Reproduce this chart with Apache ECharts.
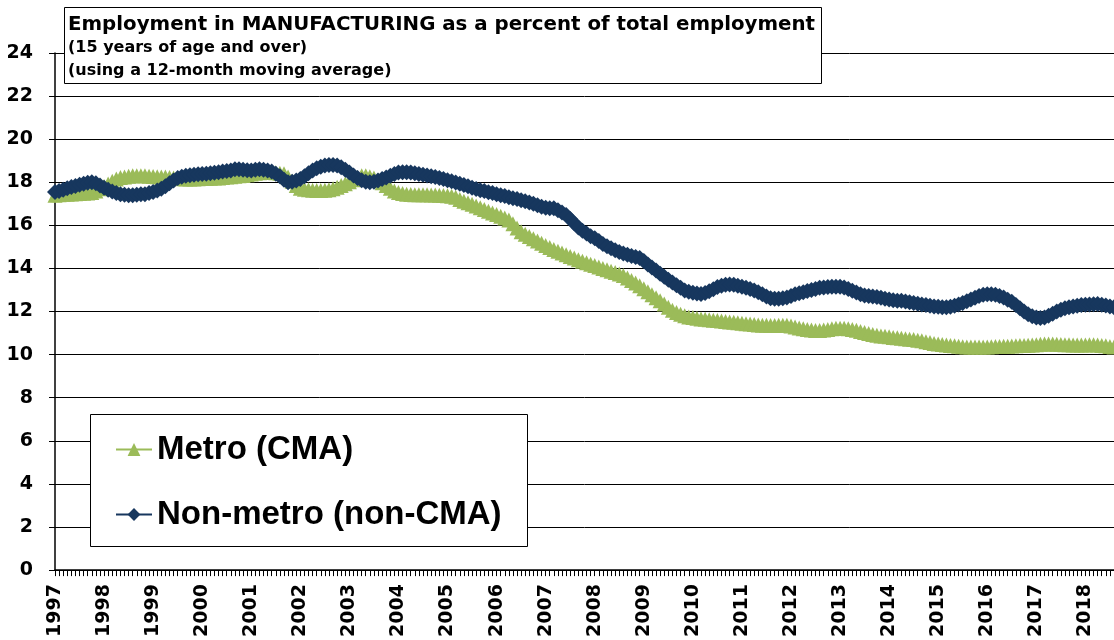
<!DOCTYPE html>
<html>
<head>
<meta charset="utf-8">
<script src="https://cdn.jsdelivr.net/npm/echarts@6/dist/echarts.min.js"></script>
<style>
  html, body { margin: 0; padding: 0; background: #fff; }
  #chart { width: 1114px; height: 640px; }
</style>
</head>
<body>
<div id="chart"></div>
<script>
// year labels, one category per month (Jan 1997 - Aug 2018)
const years = [1997, 1998, 1999, 2000, 2001, 2002, 2003, 2004, 2005, 2006, 2007,
  2008, 2009, 2010, 2011, 2012, 2013, 2014, 2015, 2016, 2017, 2018];
const lastYearMonths = 8;

// Metro (CMA), % of total employment, 12-month moving average
const metro = [
  17.4, 17.42, 17.44, 17.45, 17.46, 17.47, 17.48, 17.49, 17.5, 17.53, 17.6, 17.7, // 1997
  17.8, 17.92, 18.05, 18.15, 18.22, 18.25, 18.28, 18.3, 18.3, 18.3, 18.3, 18.28,
  18.27, 18.26, 18.25, 18.25, 18.22, 18.2, 18.18, 18.16, 18.15, 18.15, 18.15, 18.16,
  18.17, 18.18, 18.19, 18.2, 18.2, 18.22, 18.24, 18.26, 18.28, 18.3, 18.32, 18.35, // 2000
  18.38, 18.42, 18.44, 18.45, 18.45, 18.45, 18.44, 18.42, 18.4, 18.25, 18.05, 17.85,
  17.72, 17.68, 17.65, 17.63, 17.62, 17.62, 17.63, 17.65, 17.7, 17.77, 17.85, 17.93,
  18.02, 18.12, 18.22, 18.3, 18.3, 18.26, 18.2, 18.1, 17.98, 17.85, 17.72, 17.6,
  17.52, 17.48, 17.45, 17.43, 17.42, 17.42, 17.42, 17.42, 17.41, 17.41, 17.4, 17.39,
  17.37, 17.35, 17.3, 17.2, 17.12, 17.05, 16.98, 16.9, 16.82, 16.74, 16.66, 16.58, // 2005
  16.5, 16.42, 16.34, 16.25, 16.07, 15.88, 15.7, 15.59, 15.48, 15.38, 15.27, 15.17,
  15.07, 14.97, 14.88, 14.8, 14.72, 14.64, 14.56, 14.48, 14.41, 14.34, 14.27, 14.2,
  14.14, 14.07, 14.0, 13.94, 13.87, 13.81, 13.74, 13.67, 13.56, 13.44, 13.32, 13.2,
  13.06, 12.92, 12.78, 12.64, 12.5, 12.35, 12.2, 12.06, 11.96, 11.88, 11.8, 11.75,
  11.72, 11.69, 11.66, 11.64, 11.62, 11.6, 11.58, 11.56, 11.54, 11.52, 11.5, 11.48, // 2010
  11.46, 11.44, 11.42, 11.4, 11.38, 11.37, 11.36, 11.35, 11.35, 11.36, 11.37, 11.37,
  11.33, 11.28, 11.24, 11.2, 11.17, 11.14, 11.12, 11.12, 11.14, 11.17, 11.2, 11.22,
  11.22, 11.22, 11.2, 11.17, 11.13, 11.08, 11.03, 10.98, 10.94, 10.9, 10.87, 10.85,
  10.83, 10.8, 10.78, 10.76, 10.74, 10.72, 10.7, 10.67, 10.64, 10.6, 10.56, 10.52,
  10.5, 10.47, 10.45, 10.43, 10.41, 10.39, 10.37, 10.36, 10.35, 10.35, 10.35, 10.35, // 2015
  10.36, 10.37, 10.38, 10.38, 10.39, 10.39, 10.4, 10.41, 10.42, 10.43, 10.44, 10.45,
  10.46, 10.48, 10.5, 10.5, 10.49, 10.48, 10.47, 10.46, 10.46, 10.45, 10.45, 10.45,
  10.45, 10.46, 10.46, 10.45, 10.43, 10.41, 10.38, 10.35 // 2018
];

// Non-metro (non-CMA)
const nonMetro = [
  17.55, 17.6, 17.65, 17.72, 17.78, 17.83, 17.88, 17.93, 17.98, 18.0, 17.95, 17.85, // 1997
  17.75, 17.65, 17.57, 17.5, 17.45, 17.42, 17.4, 17.4, 17.42, 17.44, 17.45, 17.5,
  17.55, 17.62, 17.7, 17.82, 17.95, 18.08, 18.2, 18.26, 18.3, 18.33, 18.35, 18.37,
  18.38, 18.4, 18.42, 18.44, 18.46, 18.5, 18.52, 18.55, 18.6, 18.6, 18.58, 18.56, // 2000
  18.55, 18.58, 18.6, 18.58, 18.55, 18.5, 18.4, 18.28, 18.12, 18.0, 18.02, 18.08,
  18.15, 18.28, 18.42, 18.55, 18.65, 18.72, 18.78, 18.8, 18.8, 18.78, 18.7, 18.58,
  18.45, 18.32, 18.2, 18.1, 18.03, 18.0, 18.02, 18.08, 18.15, 18.22, 18.3, 18.38,
  18.45, 18.47, 18.47, 18.45, 18.42, 18.38, 18.35, 18.32, 18.28, 18.25, 18.2, 18.15,
  18.1, 18.05, 17.99, 17.93, 17.87, 17.81, 17.75, 17.69, 17.63, 17.59, 17.54, 17.5, // 2005
  17.45, 17.4, 17.36, 17.31, 17.26, 17.22, 17.17, 17.12, 17.06, 17.0, 16.93, 16.86,
  16.82, 16.8, 16.8, 16.7, 16.6, 16.48, 16.3, 16.1, 15.9, 15.75, 15.62, 15.5,
  15.4, 15.27, 15.14, 15.03, 14.94, 14.85, 14.77, 14.7, 14.64, 14.58, 14.53, 14.48,
  14.35, 14.18, 14.05, 13.9, 13.76, 13.62, 13.48, 13.35, 13.22, 13.1, 12.98, 12.92,
  12.87, 12.84, 12.82, 12.86, 12.94, 13.04, 13.14, 13.2, 13.25, 13.26, 13.24, 13.2, // 2010
  13.15, 13.1, 13.05, 12.98, 12.9, 12.8, 12.7, 12.62, 12.6, 12.6, 12.62, 12.65,
  12.72, 12.8, 12.85, 12.9, 12.95, 13.0, 13.05, 13.1, 13.12, 13.14, 13.15, 13.15,
  13.15, 13.12, 13.05, 12.97, 12.88, 12.8, 12.75, 12.72, 12.7, 12.67, 12.64, 12.6,
  12.56, 12.53, 12.5, 12.5, 12.47, 12.43, 12.4, 12.36, 12.33, 12.3, 12.27, 12.24,
  12.22, 12.2, 12.2, 12.22, 12.27, 12.33, 12.4, 12.48, 12.56, 12.64, 12.72, 12.78, // 2015
  12.8, 12.8, 12.78, 12.72, 12.65, 12.55, 12.45, 12.3, 12.15, 12.0, 11.88, 11.78,
  11.72, 11.7, 11.72, 11.8, 11.9, 12.0, 12.08, 12.15, 12.2, 12.24, 12.27, 12.3,
  12.32, 12.33, 12.34, 12.35, 12.32, 12.28, 12.24, 12.2 // 2018
];

const titleLines = [
  "Employment in MANUFACTURING as a percent of total employment",
  "(15 years of age and over)",
  "(using a 12-month moving average)"
];

// one category per month, labelled with its year
const months = [];
years.forEach((y, i) => {
  const n = i === years.length - 1 ? lastYearMonths : 12;
  for (let m = 1; m <= n; m++) {
    months.push(y + "-" + String(m).padStart(2, "0"));
  }
});

const chart = echarts.init(document.getElementById("chart"), null, { renderer: "canvas" });

const axisFont = {
  color: "#000",
  fontFamily: "DejaVu Sans",
  fontWeight: "bold",
  fontSize: 19,
};

const option = {
  animation: false,
  backgroundColor: "#fff",
  grid: { left: 55, right: 0, top: 53, bottom: 65, containLabel: false },
  xAxis: {
    type: "category",
    data: months,
    boundaryGap: false,
    axisLine: { lineStyle: { color: "#000", width: 1.5 } },
    axisTick: { show: true, interval: 0, length: 6, lineStyle: { color: "#000" } },
    axisLabel: Object.assign({}, axisFont, {
      rotate: 90,
      margin: 14,
      interval: (idx) => idx % 12 === 0,
      formatter: (v) => v.slice(0, 4),
    }),
    splitLine: { show: false },
  },
  yAxis: {
    type: "value",
    min: 0,
    max: 24,
    interval: 2,
    axisLine: { show: true, lineStyle: { color: "#000", width: 1.5 } },
    axisTick: { show: true, length: 6, lineStyle: { color: "#000" } },
    axisLabel: Object.assign({}, axisFont, { margin: 22 }),
    splitLine: { lineStyle: { color: "#000", width: 1 } },
  },
  legend: {
    orient: "vertical",
    left: 110,
    top: 428,
    itemGap: 32,
    itemWidth: 36,
    itemHeight: 16,
    z: 20,
    textStyle: {
      color: "#000",
      fontFamily: "Liberation Sans",
      fontWeight: "bold",
      fontSize: 33,
    },
    data: ["Metro (CMA)", "Non-metro (non-CMA)"],
  },
  graphic: [
    {
      type: "rect",
      z: 15,
      shape: { x: 64.5, y: 7.5, width: 757, height: 76 },
      style: { fill: "#fff", stroke: "#000", lineWidth: 1 },
    },
    {
      type: "text",
      z: 16,
      left: 68,
      top: 15,
      style: { text: titleLines[0], fill: "#000", font: "bold 19.8px 'DejaVu Sans'" },
    },
    {
      type: "text",
      z: 16,
      left: 68,
      top: 40,
      style: { text: titleLines[1], fill: "#000", font: "bold 16px 'DejaVu Sans'" },
    },
    {
      type: "text",
      z: 16,
      left: 68,
      top: 63,
      style: { text: titleLines[2], fill: "#000", font: "bold 16px 'DejaVu Sans'" },
    },
    {
      type: "rect",
      z: 15,
      shape: { x: 90.5, y: 414.5, width: 437, height: 132 },
      style: { fill: "#fff", stroke: "#000", lineWidth: 1 },
    },
  ],
  series: [
    {
      name: "Metro (CMA)",
      type: "line",
      data: metro,
      symbol: "triangle",
      symbolSize: 15,
      showAllSymbol: true,
      color: "#9BBB59",
      lineStyle: { color: "#9BBB59", width: 2 },
      itemStyle: { color: "#9BBB59" },
      z: 3,
    },
    {
      name: "Non-metro (non-CMA)",
      type: "line",
      data: nonMetro,
      symbol: "diamond",
      symbolSize: 16,
      showAllSymbol: true,
      color: "#17375E",
      lineStyle: { color: "#17375E", width: 2 },
      itemStyle: { color: "#17375E" },
      z: 4,
    },
  ],
};

chart.setOption(option);
</script>
</body>
</html>
